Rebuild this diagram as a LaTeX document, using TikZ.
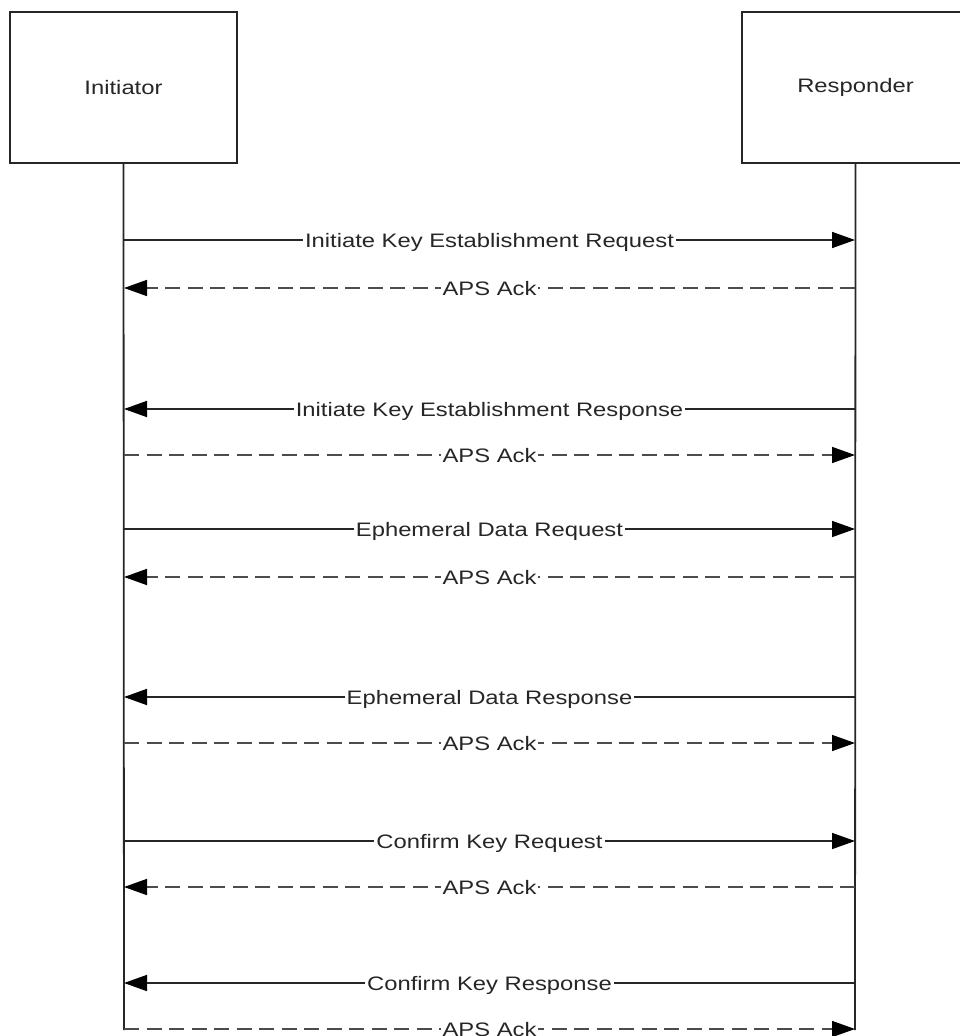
\documentclass[tikz,border=0pt]{standalone}
\usepackage{fontspec}
\setmainfont[FakeStretch=1.22]{Liberation Sans}
\usetikzlibrary{arrows.meta}
\begin{document}
\begin{tikzpicture}[x=1pt,y=-1pt,
  lane/.style={draw=black!85,line width=1.8pt},
  actor/.style={draw=black!85,line width=1.8pt,minimum width=227pt,minimum height=151pt,inner sep=0pt,font=\fontsize{19.5}{23}\selectfont,text=black!85},
  msg/.style={draw=black!85,line width=1.6pt,-{Triangle[length=23pt,width=16pt,color=black]}},
  ack/.style={msg,draw=black!70,dash pattern=on 15pt off 7.5pt},
  lbl/.style={fill=white,inner sep=2pt,anchor=base,yshift=-7pt,font=\fontsize{19.5}{23}\selectfont,text=black!85}]
\useasboundingbox (0,0) rectangle (960,1036);
\begin{scope}
\clip (0,0) rectangle (960,1036);
\node[actor] (init) at (123.5,87.5) {Initiator};
\node[actor] (resp) at (855.5,87.5) {Responder};
\coordinate (iend) at (124,1030);
\coordinate (rend) at (855,1030);
\draw[lane] (init.south) -- (iend);
\draw[lane] (resp.south) -- (rend);
\foreach \n/\y in {1/240,2/288,3/409,4/455,5/529,6/577,7/697,8/743,9/841,10/887,11/983,12/1029}{
  \coordinate (i\n) at (124,\y);
  \coordinate (r\n) at (855,\y);
}
\draw[msg] (i1) -- node[lbl]{Initiate Key Establishment Request} (r1);
\draw[ack] (r2) -- node[lbl]{APS Ack} (i2);
\draw[msg] (r3) -- node[lbl]{Initiate Key Establishment Response} (i3);
\draw[ack] (i4) -- node[lbl]{APS Ack} (r4);
\draw[msg] (i5) -- node[lbl]{Ephemeral Data Request} (r5);
\draw[ack] (r6) -- node[lbl]{APS Ack} (i6);
\draw[msg] (r7) -- node[lbl]{Ephemeral Data Response} (i7);
\draw[ack] (i8) -- node[lbl]{APS Ack} (r8);
\draw[msg] (i9) -- node[lbl]{Confirm Key Request} (r9);
\draw[ack] (r10) -- node[lbl]{APS Ack} (i10);
\draw[msg] (r11) -- node[lbl]{Confirm Key Response} (i11);
\draw[ack] (i12) -- node[lbl]{APS Ack} (r12);
\end{scope}
\end{tikzpicture}
\end{document}
